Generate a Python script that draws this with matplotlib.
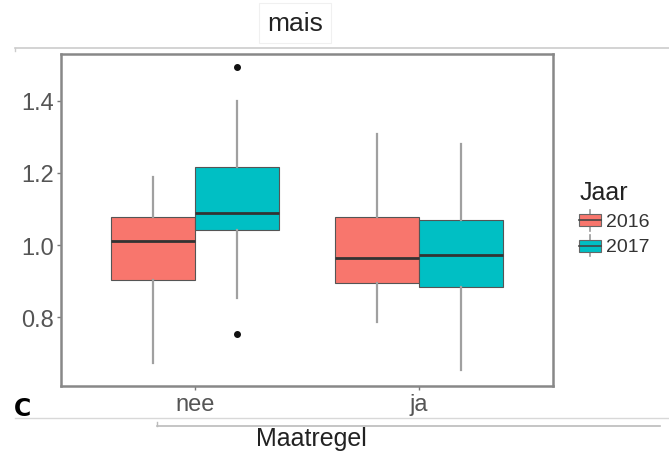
import matplotlib
matplotlib.use("Agg")
import matplotlib.pyplot as plt
from matplotlib.lines import Line2D
from matplotlib.patches import Rectangle
from matplotlib.legend_handler import HandlerBase

plt.rcParams["font.family"] = ["Liberation Sans", "DejaVu Sans"]

# data (box stats per group)
groups = ["nee", "ja"]
years = ["2016", "2017"]
colors = ["#F8766D", "#00BFC4"]

whislo = [[0.675, 0.853], [0.786, 0.653]]
q1 = [[0.903, 1.042], [0.894, 0.883]]
med = [[1.011, 1.089], [0.964, 0.972]]
q3 = [[1.078, 1.217], [1.078, 1.069]]
whishi = [[1.189, 1.400], [1.308, 1.281]]
fliers = [[[], [1.492, 0.753]], [[], []]]


class BoxKey(HandlerBase):
    # ggplot-like legend key: box, median line, whisker stubs
    def create_artists(self, legend, orig_handle, xd, yd, width, height, fontsize, trans):
        fc = orig_handle.get_facecolor()
        cx = xd + width / 2
        arts = [
            Line2D([cx, cx], [yd - 0.35 * height, yd + 1.35 * height], color="#999999", lw=1.2),
            Rectangle((xd, yd), width, height, facecolor=fc, edgecolor="#666666", lw=0.8),
            Line2D([xd, xd + width], [yd + height / 2] * 2, color="#444444", lw=1.2),
        ]
        for a in arts:
            a.set_transform(trans)
        return arts


fig = plt.figure(figsize=(6.69, 4.52), dpi=100)
ax = fig.add_axes([0.0912, 0.1438, 0.7354, 0.7345])

width = 0.375
for gi, g in enumerate(groups):
    for yi in range(len(years)):
        pos = gi + 1 + (yi - 0.5) * width
        stats = [{
            "whislo": whislo[gi][yi], "q1": q1[gi][yi], "med": med[gi][yi],
            "q3": q3[gi][yi], "whishi": whishi[gi][yi], "fliers": fliers[gi][yi],
        }]
        ax.bxp(stats, positions=[pos], widths=width, patch_artist=True,
               showcaps=False,
               boxprops=dict(facecolor=colors[yi], edgecolor="#555555", linewidth=0.8),
               medianprops=dict(color="#333333", linewidth=2),
               whiskerprops=dict(color="#a0a0a0", linewidth=1.6),
               flierprops=dict(marker="o", markersize=4, markerfacecolor="#111111",
                               markeredgecolor="#111111"))

ax.set_xlim(0.4, 2.6)
ax.set_ylim(0.61, 1.529)
ax.set_xticks([1, 2])
ax.set_xticklabels(groups)
ax.set_yticks([0.8, 1.0, 1.2, 1.4])
ax.set_yticklabels(["0.8", "1.0", "1.2", "1.4"])
ax.tick_params(colors="#777777", labelcolor="#555555", labelsize=17, length=3, width=1, pad=2)
for s in ax.spines.values():
    s.set_color("#888888")
    s.set_linewidth(1.8)

handles = [Rectangle((0, 0), 1, 1, facecolor=c) for c in colors]
leg = fig.legend(handles, years, title="Jaar", loc="upper left",
                 bbox_to_anchor=(0.866, 0.60), frameon=False, fontsize=14,
                 title_fontsize=18, handler_map={Rectangle: BoxKey()},
                 handlelength=1.1, handleheight=0.6, handletextpad=0.25,
                 labelspacing=0.45, borderaxespad=0, borderpad=0)
leg._legend_box.align = "left"
for t in leg.get_texts():
    t.set_color("#333333")
leg.get_title().set_color("#222222")

# title with faint box and separator line
fig.text(0.441, 0.947, "mais", ha="center", va="center", fontsize=19, color="#222222",
         bbox=dict(boxstyle="square,pad=0.3", facecolor="white", edgecolor="#f0f0f0", lw=0.8))
fig.add_artist(Line2D([0.022, 1.0], [0.8916, 0.8916], color="#cccccc", lw=1.2))
fig.add_artist(Line2D([0.022, 0.022], [0.8916, 0.885], color="#cccccc", lw=1.0))

# panel letter and lower separator lines
fig.text(0.021, 0.095, "C", ha="left", va="center", fontsize=17, fontweight="bold",
         color="black", family="DejaVu Sans")
fig.add_artist(Line2D([0.022, 1.0], [0.073, 0.073], color="#d8d8d8", lw=1.0))
fig.add_artist(Line2D([0.235, 0.987], [0.0553, 0.0553], color="#bbbbbb", lw=1.2))
fig.add_artist(Line2D([0.235, 0.235], [0.0553, 0.064], color="#bbbbbb", lw=1.0))

fig.text(0.465, 0.028, "Maatregel", ha="center", va="center", fontsize=18, color="#222222")

fig.savefig("out.png", dpi=100)
